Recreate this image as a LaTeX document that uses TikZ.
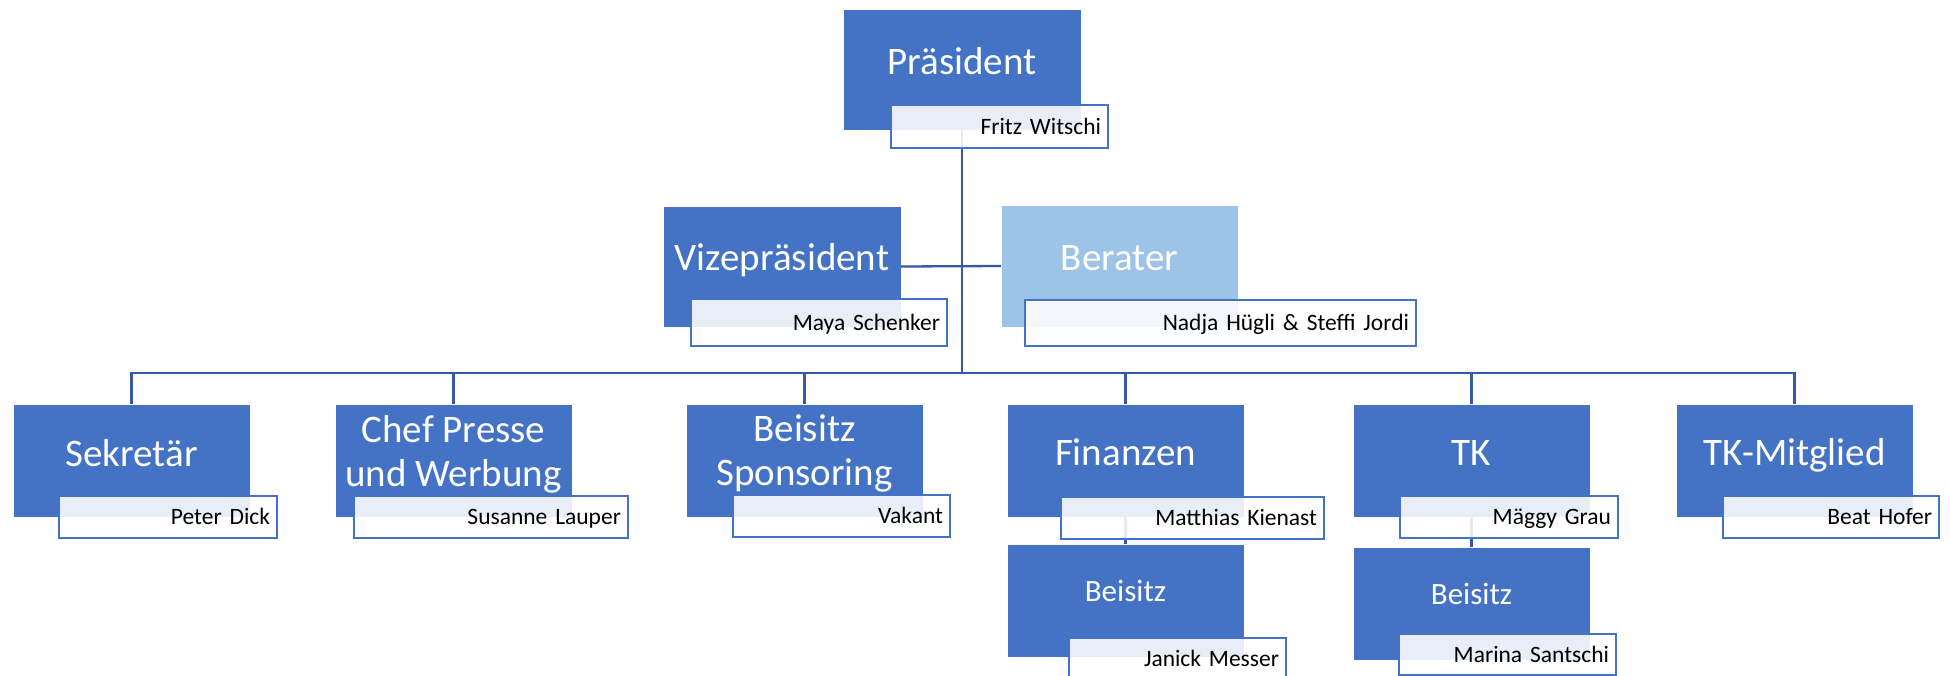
\documentclass[tikz,border=0pt]{standalone}
\usepackage{fontspec}
\setmainfont{Carlito}
\usetikzlibrary{positioning}
\definecolor{amtblau}{HTML}{4472C4}
\definecolor{hellblau}{HTML}{9DC3E6}
\definecolor{linienblau}{HTML}{3559A6}

\begin{document}
\begin{tikzpicture}[x=1pt,y=-1pt,
  amt/.style={rectangle,fill=amtblau,draw=white,line width=0.8pt,anchor=north west,
    minimum width=237pt,minimum height=113pt,inner sep=0pt,outer sep=0pt},
  amttext/.style={text=white,anchor=base,align=center,font=\fontsize{39}{44}\selectfont},
  person/.style={rectangle,draw=amtblau,line width=2pt,fill=white,fill opacity=0.88,
    text opacity=1,anchor=north west,text width=#1,align=right,inner xsep=7pt,
    inner ysep=0pt,minimum height=42pt,text height=15pt,text depth=0pt,
    font=\fontsize{23.5}{28}\selectfont},
  person/.default=203pt,
  linie/.style={draw=linienblau,line width=2.3pt}]
\useasboundingbox (0,0) rectangle (1950,675);
% Kaestchen
\node (praes) [amt,minimum height=121pt,minimum width=238pt] at (843,9) {};
\node (vize) [amt,minimum height=121pt,minimum width=238pt] at (663,206) {};
\node (berater) [amt,fill=hellblau,minimum height=122pt] at (1001,205) {};
\node (sekr) [amt] at (13,404) {};
\node (presse) [amt] at (335,404) {};
\node (spons) [amt] at (686,404) {};
\node (fin) [amt] at (1007,404) {};
\node (tk) [amt] at (1353,404) {};
\node (tkm) [amt] at (1676,404) {};
\node (finb) [amt] at (1007,544) {};
\node (tkb) [amt] at (1353,547) {};
%
\node (praes-t) [amttext] at ([yshift=-65pt]praes.north) {Präsident};
\node (vize-t) [amttext] at ([yshift=-64pt]vize.north) {Vizepräsident};
\node (berater-t) [amttext] at ([yshift=-65pt]berater.north) {Berater};
\node (sekr-t) [amttext] at ([yshift=-62pt]sekr.north) {Sekretär};
\node (presse-t) [amttext] at ([yshift=-82pt]presse.north) {Chef Presse\\und Werbung};
\node (spons-t) [amttext] at ([yshift=-81pt]spons.north) {Beisitz\\Sponsoring};
\node (fin-t) [amttext] at ([yshift=-61pt]fin.north) {Finanzen};
\node (tk-t) [amttext] at ([yshift=-61pt]tk.north) {TK};
\node (tkm-t) [amttext] at ([yshift=-61pt]tkm.north) {TK-Mitglied};
\node (finb-t) [amttext,font=\fontsize{31}{36}\selectfont] at ([yshift=-57pt]finb.north) {Beisitz};
\node (tkb-t) [amttext,font=\fontsize{31}{36}\selectfont] at ([yshift=-57pt]tkb.north) {Beisitz};
% Verbindungen
\coordinate (schiene) at (962,373);
\draw[linie] (praes.south) -- (schiene);
\draw[linie] (vize.east) -- (berater.west);
\foreach \n in {sekr,presse,spons,fin,tk,tkm}
  \draw[linie] (schiene) -| (\n.north);
\draw[linie] (fin.south) -- (finb.north);
\draw[linie] (tk.south) -- (tkb.north);
% Namen
\node (praes-n) [person,minimum height=43pt] at (890,104) {Fritz Witschi};
\node (vize-n) [person=242pt,minimum height=47pt] at (690,298) {Maya Schenker};
\node (berater-n) [person=377pt,minimum height=46pt] at (1024,299) {Nadja Hügli \& Steffi Jordi};
\node (sekr-n) [person=204pt] at (58,495) {Peter Dick};
\node (presse-n) [person=260pt] at (353,495) {Susanne Lauper};
\node (spons-n) [person] at (732,494) {Vakant};
\node (fin-n) [person=249pt] at (1060,496) {Matthias Kienast};
\node (finb-n) [person] at (1068,637) {Janick Messer};
\node (tk-n) [person=204pt] at (1399,495) {Mäggy Grau};
\node (tkb-n) [person,minimum height=41pt] at (1398,633) {Marina Santschi};
\node (tkm-n) [person=202pt] at (1722,495) {Beat Hofer};
\end{tikzpicture}
\end{document}
